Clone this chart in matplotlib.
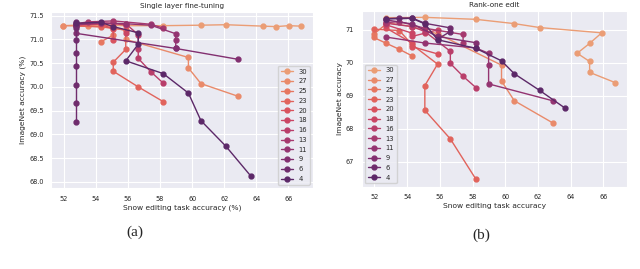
# Snow editing vs ImageNet accuracy, per layer, two editing methods
import matplotlib
matplotlib.use("Agg")
import matplotlib.pyplot as plt
import seaborn as sns

sns.set_style("darkgrid")
plt.rcParams['font.family'] = ['DejaVu Sans']

layers = [30, 27, 25, 23, 20, 18, 16, 13, 11, 9, 6, 4]

# (a) single layer fine-tuning: x = snow accuracy, y = imagenet accuracy
ft_x = {
    30: [51.95, 52.73, 54.30, 55.86, 58.20, 60.55, 62.11, 64.45, 65.23, 66.02, 66.80],
    27: [51.95, 53.52, 55.08, 55.86, 55.86, 59.77, 59.77, 60.55, 62.89],
    25: [52.73, 54.30, 55.08, 55.08, 54.30],
    23: [52.73, 54.30, 55.86, 55.86, 55.08, 55.08, 56.64, 58.20],
    20: [52.73, 54.30, 55.08, 55.08],
    18: [52.73, 55.08, 55.86, 55.86],
    16: [52.73, 54.30, 55.86, 56.64, 56.64, 56.64, 57.42, 58.20],
    13: [52.73, 53.52, 55.08, 57.42, 58.20],
    11: [52.73, 54.30, 55.86, 57.42, 58.98, 58.98, 58.98],
    9:  [52.73, 52.73, 58.98, 62.89],
    6:  [52.73, 52.73, 52.73, 52.73, 52.73, 52.73, 52.73, 52.73, 52.73],
    4:  [52.73, 54.30, 55.08, 56.64, 56.64, 55.86, 58.20, 59.77, 60.55, 62.11, 63.67],
}
ft_y = {
    30: [71.29, 71.30, 71.30, 71.29, 71.29, 71.30, 71.31, 71.28, 71.27, 71.29, 71.28],
    27: [71.29, 71.28, 71.24, 71.19, 71.00, 70.62, 70.40, 70.07, 69.80],
    25: [71.30, 71.32, 71.26, 71.09, 70.95],
    23: [71.28, 71.27, 71.20, 70.79, 70.52, 70.33, 70.00, 69.69],
    20: [71.30, 71.32, 71.22, 70.99],
    18: [71.31, 71.34, 71.30, 71.14],
    16: [71.32, 71.35, 71.33, 71.10, 70.80, 70.60, 70.32, 70.08],
    13: [71.33, 71.37, 71.39, 71.32, 71.24],
    11: [71.31, 71.34, 71.33, 71.30, 71.12, 70.99, 70.81],
    9:  [71.28, 71.13, 70.81, 70.58],
    6:  [71.36, 71.30, 71.25, 70.99, 70.72, 70.43, 70.05, 69.66, 69.26],
    4:  [71.34, 71.36, 71.27, 71.14, 70.90, 70.55, 70.28, 69.87, 69.29, 68.75, 68.12],
}

# (b) rank-one edit
r1_x = {
    30: [52.73, 55.08, 58.20, 60.55, 62.11, 65.90, 65.16, 64.40, 65.16, 65.16, 66.72],
    27: [52.73, 54.30, 55.86, 59.77, 59.77, 60.55, 62.89],
    25: [52.73, 51.95, 51.95, 52.73, 53.52, 54.30],
    23: [51.95, 53.52, 54.30, 55.86, 55.08, 55.08, 56.64, 58.20],
    20: [52.73, 54.30, 54.30, 55.86],
    18: [52.73, 54.30, 54.30, 55.08, 55.86],
    16: [52.73, 54.30, 55.08, 56.64, 56.64, 57.42, 58.20],
    13: [52.73, 53.52, 55.08, 57.42, 57.42],
    11: [52.73, 55.08, 58.20, 58.98, 58.98, 58.98, 62.89],
    9:  [52.73, 54.30, 55.86, 58.20],
    6:  [52.73, 53.52, 54.30, 55.08, 56.64, 56.64, 55.86],
    4:  [52.73, 54.30, 55.08, 55.86, 58.20, 59.77, 60.55, 62.11, 63.67],
}
r1_y = {
    30: [71.37, 71.38, 71.32, 71.19, 71.07, 70.91, 70.59, 70.29, 70.04, 69.71, 69.40],
    27: [71.22, 71.10, 70.88, 69.93, 69.45, 68.85, 68.18],
    25: [71.18, 70.87, 70.77, 70.59, 70.41, 70.21],
    23: [71.02, 70.98, 70.55, 69.96, 69.31, 68.56, 67.69, 66.47],
    20: [71.05, 70.60, 70.49, 70.27],
    18: [71.15, 70.90, 70.80, 70.90, 71.00],
    16: [71.20, 71.10, 70.95, 70.35, 69.98, 69.59, 69.25],
    13: [71.22, 71.25, 71.05, 70.86, 70.60],
    11: [70.78, 70.60, 70.45, 70.29, 69.93, 69.36, 68.85],
    9:  [71.30, 71.18, 70.80, 70.61],
    6:  [71.34, 71.36, 71.36, 71.20, 71.06, 70.95, 70.72],
    4:  [71.33, 71.35, 71.18, 70.70, 70.44, 70.06, 69.67, 69.16, 68.62],
}

colors = sns.color_palette("flare", len(layers))

fig = plt.figure(figsize=(6.4, 2.69), dpi=100)
ax1 = fig.add_axes([0.080, 0.301, 0.409, 0.653])
ax2 = fig.add_axes([0.565, 0.306, 0.415, 0.654])

for ax, xs, ys in [(ax1, ft_x, ft_y), (ax2, r1_x, r1_y)]:
    for layer, c in zip(layers, colors):
        ax.plot(xs[layer], ys[layer], marker="o", markersize=3.5, linewidth=1.0,
                color=c, label=str(layer))
    ax.tick_params(labelsize=4.7, pad=2)
    ax.set_xticks([52, 54, 56, 58, 60, 62, 64, 66])

ax1.set_yticks([68.0, 68.5, 69.0, 69.5, 70.0, 70.5, 71.0, 71.5])
ax1.set_ylim(67.87, 71.57)
ax2.set_yticks([67, 68, 69, 70, 71])
ax2.set_ylim(66.24, 71.58)

ax1.set_title("Single layer fine-tuning", fontsize=5.2, pad=3)
ax2.set_title("Rank-one edit", fontsize=5.2, pad=3)
ax1.set_xlabel("Snow editing task accuracy (%)", fontsize=5.4, labelpad=2)
ax1.set_ylabel("ImageNet accuracy (%)", fontsize=5.4, labelpad=2)
ax2.set_xlabel("Snow editing task accuracy", fontsize=5.4, labelpad=2)
ax2.set_ylabel("ImageNet accuracy", fontsize=5.4, labelpad=2)

ax1.legend(loc="lower right", fontsize=4.9, labelspacing=0.55, handlelength=1.8)
ax2.legend(loc="lower left", fontsize=4.9, labelspacing=0.55, handlelength=1.8)

fig.text(0.211, 0.135, "(a)", fontsize=11, family="Liberation Serif", ha="center", va="center")
fig.text(0.752, 0.125, "(b)", fontsize=11, family="Liberation Serif", ha="center", va="center")

plt.savefig("out.png", dpi=100)
